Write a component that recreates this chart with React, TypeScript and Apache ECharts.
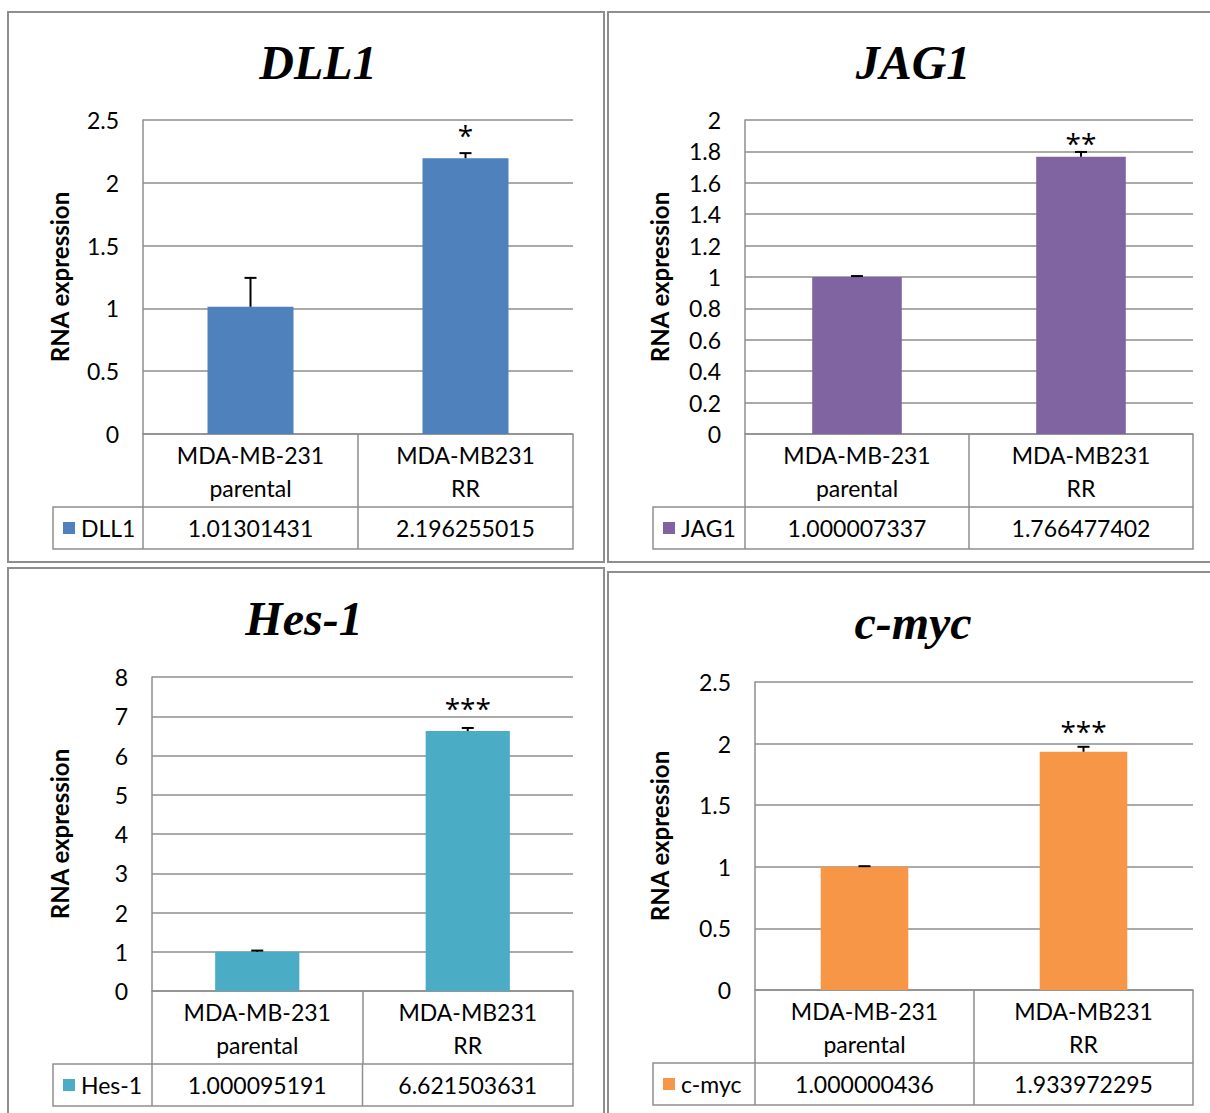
import React, { useEffect, useRef } from "react";
import * as echarts from "echarts";

// Cell lines compared in every panel
const CATEGORIES = ["MDA-MB-231\nparental", "MDA-MB231\nRR"];

// Genes, one panel each
const GENES = ["DLL1", "JAG1", "Hes-1", "c-myc"];

// Relative RNA expression
const DLL1_VALUES = [1.01301431, 2.196255015];
const JAG1_VALUES = [1.000007337, 1.766477402];
const HES1_VALUES = [1.000095191, 6.621503631];
const CMYC_VALUES = [1.000000436, 1.933972295];

// Error bar heights (upper side only)
const DLL1_ERRORS = [0.23, 0.04];
const JAG1_ERRORS = [0.006, 0.03];
const HES1_ERRORS = [0.03, 0.08];
const CMYC_ERRORS = [0.005, 0.04];

// Significance marks above the RR bar
const SIGNIFICANCE = ["*", "**", "***", "***"];

// Value axis ranges
const Y_MAX = [2.5, 2, 8, 2.5];
const Y_INTERVAL = [0.5, 0.2, 1, 0.5];

const VALUES = [DLL1_VALUES, JAG1_VALUES, HES1_VALUES, CMYC_VALUES];
const ERRORS = [DLL1_ERRORS, JAG1_ERRORS, HES1_ERRORS, CMYC_ERRORS];
const COLORS = ["#4F81BD", "#8064A2", "#4BACC6", "#F79646"];

// Panel layout (pixels)
const LAYOUT = [
  { frame: [8, 12, 596, 550], title: [318, 62], grid: [143, 120, 430, 314], nameGap: 72, tableLeft: 53, sigGap: 9 },
  { frame: [608, 12, 606, 550], title: [913, 62], grid: [745, 120, 448, 314], nameGap: 74, tableLeft: 653, sigGap: 0 },
  { frame: [8, 568, 596, 550], title: [304, 618], grid: [152, 677, 421, 314], nameGap: 81, tableLeft: 53, sigGap: 9 },
  { frame: [608, 572, 606, 550], title: [913, 622], grid: [755, 682, 438, 308], nameGap: 84, tableLeft: 653, sigGap: 7 },
];

const ROW1_H = 73;
const ROW2_H = 42;
const LINE_GRAY = "#8e8e8e";
const FONT = "Lato, 'Open Sans', sans-serif";
const FONT_SIZE = 23;

export default function App() {
  const ref = useRef<HTMLDivElement>(null);

  useEffect(() => {
    document.body.style.margin = "0";
    if (!ref.current) return;
    const chart = echarts.init(ref.current, null, { renderer: "svg" });

    const grid = LAYOUT.map((l) => ({
      left: l.grid[0],
      top: l.grid[1],
      width: l.grid[2],
      height: l.grid[3],
      containLabel: false,
    }));

    const xAxis = LAYOUT.map((_, i) => ({
      type: "category",
      gridIndex: i,
      data: CATEGORIES,
      axisLine: { show: true, lineStyle: { color: LINE_GRAY, width: 1.5 } },
      axisTick: { show: true, length: ROW1_H, alignWithLabel: false, interval: 0, lineStyle: { color: LINE_GRAY, width: 1.5 } },
      axisLabel: {
        interval: 0,
        margin: 4,
        color: "#000",
        fontFamily: FONT,
        fontSize: FONT_SIZE,
        lineHeight: 33,
      },
    }));

    const yAxis = LAYOUT.map((l, i) => ({
      type: "value",
      gridIndex: i,
      min: 0,
      max: Y_MAX[i],
      interval: Y_INTERVAL[i],
      name: "RNA expression",
      nameLocation: "middle",
      nameGap: l.nameGap,
      nameRotate: 90,
      nameTextStyle: { color: "#000", fontFamily: FONT, fontSize: 24, fontWeight: "bold" },
      axisLine: { show: true, lineStyle: { color: LINE_GRAY, width: 1.5 } },
      axisTick: { show: false },
      axisLabel: { color: "#000", fontFamily: FONT, fontSize: FONT_SIZE, margin: 24 },
      splitLine: { show: true, lineStyle: { color: LINE_GRAY, width: 1.5 } },
    }));

    const series: any[] = [];
    GENES.forEach((gene, i) => {
      series.push({
        type: "bar",
        name: gene,
        xAxisIndex: i,
        yAxisIndex: i,
        data: VALUES[i],
        barWidth: "40%",
        itemStyle: { color: COLORS[i] },
        label: {
          show: true,
          position: "top",
          distance: LAYOUT[i].sigGap,
          color: "#000",
          fontFamily: "'Open Sans', sans-serif",
          fontSize: 28,
          formatter: (p: any) => (p.dataIndex === 1 ? SIGNIFICANCE[i] : ""),
        },
      });
      series.push({
        type: "custom",
        name: gene + " error",
        xAxisIndex: i,
        yAxisIndex: i,
        data: VALUES[i].map((v, k) => [k, v, ERRORS[i][k]]),
        encode: { x: 0, y: 1 },
        z: 5,
        renderItem: (_params: any, api: any) => {
          const k = api.value(0);
          const v = api.value(1);
          const e = api.value(2);
          const base = api.coord([k, v]);
          const top = api.coord([k, v + e]);
          const style = { stroke: "#000", lineWidth: 2 };
          return {
            type: "group",
            children: [
              { type: "line", shape: { x1: base[0], y1: base[1], x2: top[0], y2: top[1] }, style },
              { type: "line", shape: { x1: top[0] - 6, y1: top[1], x2: top[0] + 6, y2: top[1] }, style },
            ],
          };
        },
      });
    });

    chart.setOption({
      animation: false,
      backgroundColor: "#fff",
      grid,
      xAxis,
      yAxis,
      series,
    });

    // Frames, titles and the data-table row, placed from the axes
    const graphic: any[] = [];
    LAYOUT.forEach((l, i) => {
      const [gx, gy, gw, gh] = l.grid;
      const bottom = gy + gh;
      const rowTop = bottom + ROW1_H;
      const right = gx + gw;
      const c0 = chart.convertToPixel({ xAxisIndex: i }, 0) as number;
      const c1 = chart.convertToPixel({ xAxisIndex: i }, 1) as number;
      const mid = (c0 + c1) / 2;

      graphic.push({
        type: "rect",
        shape: { x: l.frame[0], y: l.frame[1], width: l.frame[2], height: l.frame[3] },
        style: { fill: "none", stroke: LINE_GRAY, lineWidth: 2 },
        z: 10,
      });
      graphic.push({
        type: "text",
        x: l.title[0],
        y: l.title[1],
        style: {
          text: GENES[i],
          align: "center",
          verticalAlign: "middle",
          fontFamily: "'Liberation Serif', 'Times New Roman', serif",
          fontSize: 48,
          fontWeight: "bold",
          fontStyle: "italic",
          fill: "#000",
        },
      });
      graphic.push({
        type: "rect",
        shape: { x: l.tableLeft, y: rowTop, width: right - l.tableLeft, height: ROW2_H },
        style: { fill: "none", stroke: LINE_GRAY, lineWidth: 1.5 },
      });
      graphic.push({
        type: "line",
        shape: { x1: gx, y1: rowTop, x2: gx, y2: rowTop + ROW2_H },
        style: { stroke: LINE_GRAY, lineWidth: 1.5 },
      });
      graphic.push({
        type: "line",
        shape: { x1: mid, y1: rowTop, x2: mid, y2: rowTop + ROW2_H },
        style: { stroke: LINE_GRAY, lineWidth: 1.5 },
      });
      graphic.push({
        type: "rect",
        shape: { x: l.tableLeft + 10, y: rowTop + 15, width: 12, height: 12 },
        style: { fill: COLORS[i] },
      });
      graphic.push({
        type: "text",
        x: l.tableLeft + 28,
        y: rowTop + ROW2_H / 2,
        style: { text: GENES[i], align: "left", verticalAlign: "middle", fontFamily: FONT, fontSize: FONT_SIZE, fill: "#000" },
      });
      [c0, c1].forEach((cx, k) => {
        graphic.push({
          type: "text",
          x: cx,
          y: rowTop + ROW2_H / 2,
          style: {
            text: String(VALUES[i][k]),
            align: "center",
            verticalAlign: "middle",
            fontFamily: FONT,
            fontSize: FONT_SIZE,
            fill: "#000",
          },
        });
      });
    });
    chart.setOption({ graphic });

    return () => chart.dispose();
  }, []);

  return <div ref={ref} style={{ width: 1210, height: 1113 }} />;
}
